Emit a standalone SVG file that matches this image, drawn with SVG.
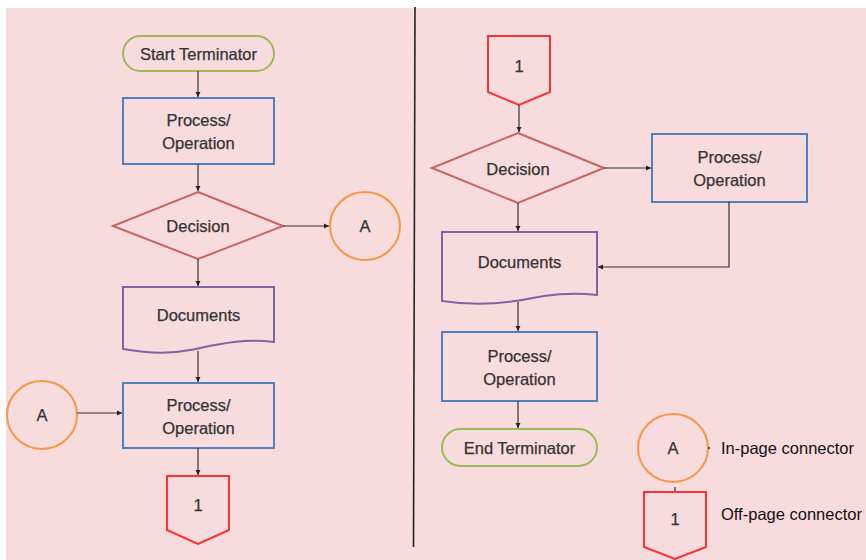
<svg xmlns="http://www.w3.org/2000/svg" width="866" height="560" viewBox="0 0 866 560">
  <defs>
    <marker id="arrow" markerWidth="6" markerHeight="6" refX="5" refY="3" orient="auto" markerUnits="userSpaceOnUse">
      <path d="M0,0.5 L5,3 L0,5.5 Z" fill="#222"/>
    </marker>
    <style>
      .lbl { font-family: "Liberation Sans", Arial, sans-serif; font-size: 16.5px; fill: #333; stroke: #333; stroke-width: 0.25; text-anchor: middle; }
      .legend { font-family: "Liberation Sans", Arial, sans-serif; font-size: 16.5px; fill: #111; }
      .term { fill: none; stroke: #9bbb59; stroke-width: 2; }
      .proc { fill: none; stroke: #4f81bd; stroke-width: 2; }
      .dec { fill: none; stroke: #c0504d; stroke-width: 2; opacity: 0.85; }
      .doc { fill: none; stroke: #8064a2; stroke-width: 2; }
      .conn { fill: none; stroke: #f79646; stroke-width: 2; }
      .off { fill: none; stroke: #ff3333; stroke-width: 2; }
      .edge { fill: none; stroke: #333; stroke-width: 1.2; marker-end: url(#arrow); }
    </style>
  </defs>

  <rect x="0" y="0" width="866" height="560" fill="#ffffff"/>
  <rect x="6" y="8" width="860" height="552" fill="#f8dbdc"/>

  <!-- divider between the two pages -->
  <line x1="415" y1="7" x2="413.5" y2="547" stroke="#222" stroke-width="1.6"/>

  <!-- left page -->
  <g id="start">
    <rect class="term" x="123" y="36" width="151" height="35" rx="17.5"/>
    <text class="lbl" x="198.5" y="59.5">Start Terminator</text>
  </g>
  <g id="process-l1">
    <rect class="proc" x="123" y="98" width="151" height="66"/>
    <text class="lbl" x="198.5" y="126">Process/</text>
    <text class="lbl" x="198.5" y="149">Operation</text>
  </g>
  <g id="decision-l">
    <polygon class="dec" points="198,192 283,226 198,259 113,226"/>
    <text class="lbl" x="198" y="232">Decision</text>
  </g>
  <g id="conn-a-out">
    <ellipse class="conn" cx="365" cy="226" rx="35" ry="34"/>
    <text class="lbl" x="365" y="232">A</text>
  </g>
  <g id="documents-l">
    <path class="doc" d="M123,287 H274 V342 C240,338 215,345 190,350 C165,355 140,352 123,349 Z"/>
    <text class="lbl" x="198.5" y="321">Documents</text>
  </g>
  <g id="conn-a-in">
    <ellipse class="conn" cx="42" cy="415" rx="35" ry="34"/>
    <text class="lbl" x="42" y="421">A</text>
  </g>
  <g id="process-l2">
    <rect class="proc" x="123" y="383" width="151" height="65"/>
    <text class="lbl" x="198.5" y="411">Process/</text>
    <text class="lbl" x="198.5" y="434">Operation</text>
  </g>
  <g id="offpage-out">
    <polygon class="off" points="167,476 229,476 229,530 198,544 167,530"/>
    <text class="lbl" x="198" y="511">1</text>
  </g>

  <!-- right page -->
  <g id="offpage-in">
    <polygon class="off" points="488,36 550,36 550,92 519,105 488,92"/>
    <text class="lbl" x="519" y="72">1</text>
  </g>
  <g id="decision-r">
    <polygon class="dec" points="518,133 604,168 518,203 432,168"/>
    <text class="lbl" x="518" y="175">Decision</text>
  </g>
  <g id="process-r1">
    <rect class="proc" x="652" y="134" width="155" height="68"/>
    <text class="lbl" x="729.5" y="163">Process/</text>
    <text class="lbl" x="729.5" y="186">Operation</text>
  </g>
  <g id="documents-r">
    <path class="doc" d="M442,232 H597 V295 C563,291 540,297 515,301 C490,305 462,304 442,301 Z"/>
    <text class="lbl" x="519.5" y="268">Documents</text>
  </g>
  <g id="process-r2">
    <rect class="proc" x="442" y="332" width="155" height="69"/>
    <text class="lbl" x="519.5" y="362">Process/</text>
    <text class="lbl" x="519.5" y="385">Operation</text>
  </g>
  <g id="end">
    <rect class="term" x="442" y="429" width="155" height="37" rx="18.5"/>
    <text class="lbl" x="519.5" y="454">End Terminator</text>
  </g>

  <!-- legend -->
  <g id="legend-inpage">
    <ellipse class="conn" cx="673" cy="448" rx="35" ry="34"/>
    <text class="lbl" x="673" y="454">A</text>
    <circle cx="709" cy="448" r="1.2" fill="#555"/>
    <text class="legend" x="721" y="454">In-page connector</text>
  </g>
  <g id="legend-offpage">
    <polygon class="off" points="644,492 706,492 706,547 675,559 644,547"/>
    <text class="lbl" x="675" y="525">1</text>
    <line x1="675" y1="487" x2="675" y2="491" stroke="#555" stroke-width="1.5"/>
    <text class="legend" x="721" y="520">Off-page connector</text>
  </g>

  <!-- connectors -->
  <g id="connectors">
    <line class="edge" x1="198" y1="71" x2="198" y2="97"/>
    <line class="edge" x1="198" y1="164" x2="198" y2="191"/>
    <line class="edge" x1="283" y1="226" x2="329" y2="226"/>
    <line class="edge" x1="198" y1="259" x2="198" y2="286"/>
    <line class="edge" x1="198" y1="351" x2="198" y2="382"/>
    <line class="edge" x1="77" y1="413" x2="122" y2="413"/>
    <line class="edge" x1="198" y1="448" x2="198" y2="475"/>
    <line class="edge" x1="519" y1="105" x2="519" y2="132"/>
    <line class="edge" x1="604" y1="168" x2="651" y2="168"/>
    <polyline class="edge" points="729,202 729,267 598,267"/>
    <line class="edge" x1="518" y1="203" x2="518" y2="231"/>
    <line class="edge" x1="518" y1="302" x2="518" y2="331"/>
    <line class="edge" x1="518" y1="401" x2="518" y2="428"/>
  </g>
</svg>
